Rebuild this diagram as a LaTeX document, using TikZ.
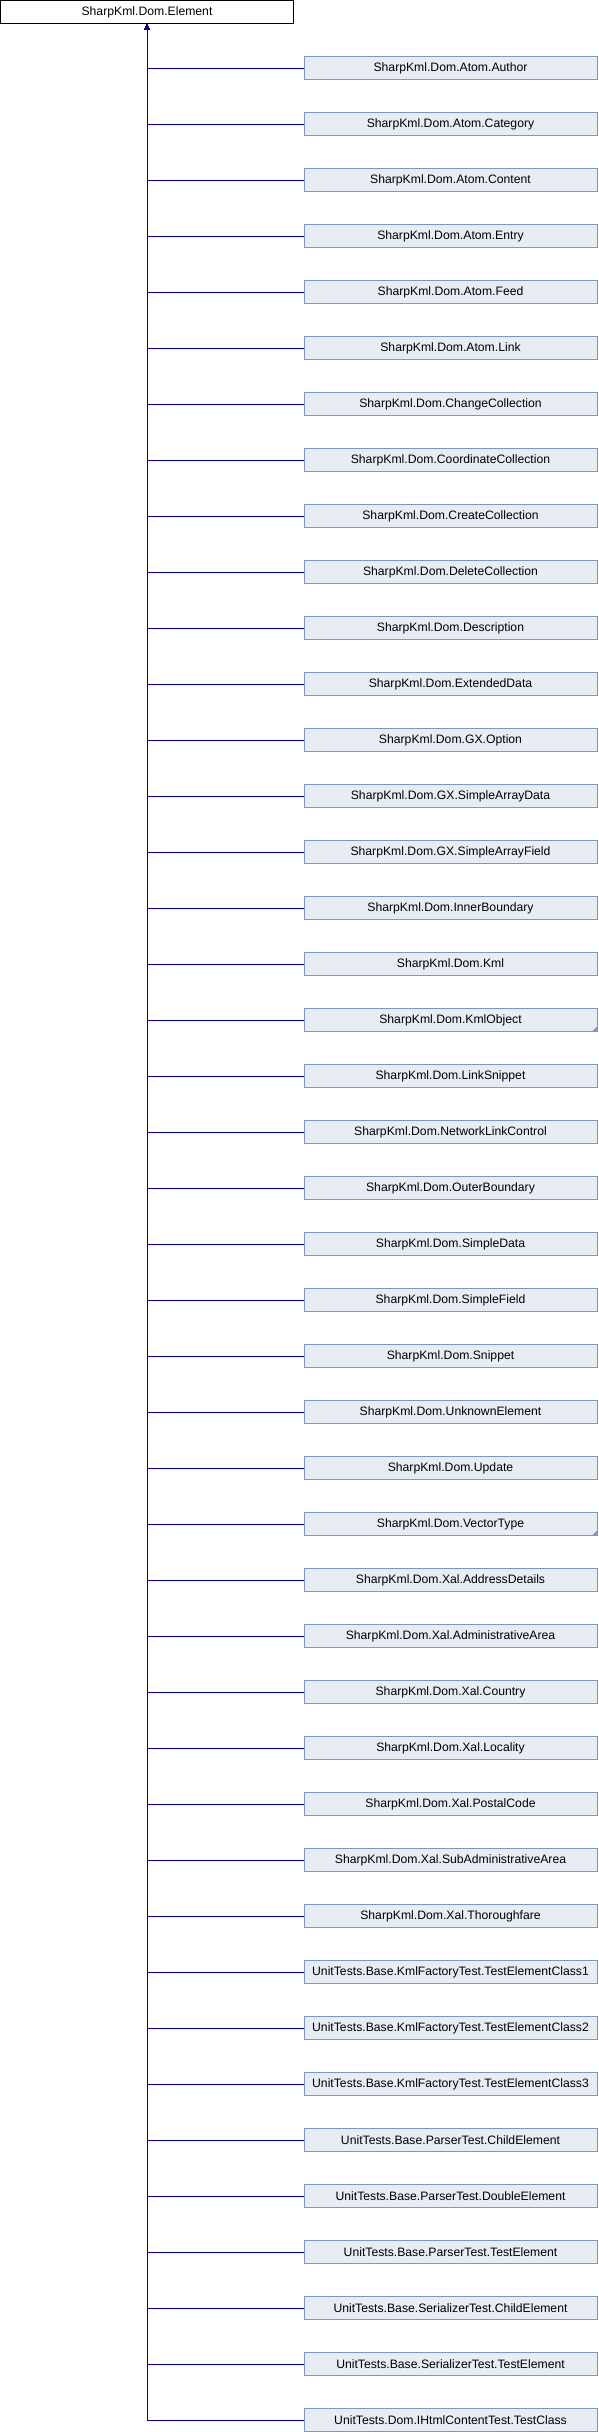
\documentclass[tikz,border=0pt]{standalone}
\usepackage{fontspec}
\setmainfont{Liberation Sans}
\usetikzlibrary{arrows.meta}
\definecolor{boxfill}{RGB}{232,236,244}
\definecolor{boxline}{RGB}{124,149,202}
\definecolor{edgecol}{RGB}{0,0,139}
\begin{document}
\begin{tikzpicture}[x=1pt,y=-1pt,
  basebox/.style={draw=black,fill=white,line width=1pt,minimum width=293pt,minimum height=23pt,inner sep=0pt,outer sep=0pt,font=\fontsize{12.2}{14}\selectfont},
  childbox/.style={draw=boxline,fill=boxfill,line width=1pt,minimum width=293pt,minimum height=23pt,inner sep=0pt,outer sep=0pt,font=\fontsize{12.2}{14}\selectfont},
  edge/.style={draw=edgecol,line width=0.9pt,{Latex[length=6pt,width=5pt]}-},
  moremark/.style={fill=boxline}]
\useasboundingbox (0,0) rectangle (598,2432);
\node[basebox] (top) at (147,12) {SharpKml.Dom.Element};
\foreach \t [count=\i from 0] in {
SharpKml.Dom.Atom.Author,
SharpKml.Dom.Atom.Category,
SharpKml.Dom.Atom.Content,
SharpKml.Dom.Atom.Entry,
SharpKml.Dom.Atom.Feed,
SharpKml.Dom.Atom.Link,
SharpKml.Dom.ChangeCollection,
SharpKml.Dom.CoordinateCollection,
SharpKml.Dom.CreateCollection,
SharpKml.Dom.DeleteCollection,
SharpKml.Dom.Description,
SharpKml.Dom.ExtendedData,
SharpKml.Dom.GX.Option,
SharpKml.Dom.GX.SimpleArrayData,
SharpKml.Dom.GX.SimpleArrayField,
SharpKml.Dom.InnerBoundary,
SharpKml.Dom.Kml,
SharpKml.Dom.KmlObject,
SharpKml.Dom.LinkSnippet,
SharpKml.Dom.NetworkLinkControl,
SharpKml.Dom.OuterBoundary,
SharpKml.Dom.SimpleData,
SharpKml.Dom.SimpleField,
SharpKml.Dom.Snippet,
SharpKml.Dom.UnknownElement,
SharpKml.Dom.Update,
SharpKml.Dom.VectorType,
SharpKml.Dom.Xal.AddressDetails,
SharpKml.Dom.Xal.AdministrativeArea,
SharpKml.Dom.Xal.Country,
SharpKml.Dom.Xal.Locality,
SharpKml.Dom.Xal.PostalCode,
SharpKml.Dom.Xal.SubAdministrativeArea,
SharpKml.Dom.Xal.Thoroughfare,
UnitTests.Base.KmlFactoryTest.TestElementClass1,
UnitTests.Base.KmlFactoryTest.TestElementClass2,
UnitTests.Base.KmlFactoryTest.TestElementClass3,
UnitTests.Base.ParserTest.ChildElement,
UnitTests.Base.ParserTest.DoubleElement,
UnitTests.Base.ParserTest.TestElement,
UnitTests.Base.SerializerTest.ChildElement,
UnitTests.Base.SerializerTest.TestElement,
UnitTests.Dom.IHtmlContentTest.TestClass}{
  \node[childbox] (c\i) at (450.5,{68+56*\i}) {\t};
  \draw[edge] (top.south) |- (c\i.west);
}
\fill[moremark] (c17.south east) -- ++(-5,0) -- ++(5,-5) -- cycle;
\fill[moremark] (c26.south east) -- ++(-5,0) -- ++(5,-5) -- cycle;
\end{tikzpicture}
\end{document}
